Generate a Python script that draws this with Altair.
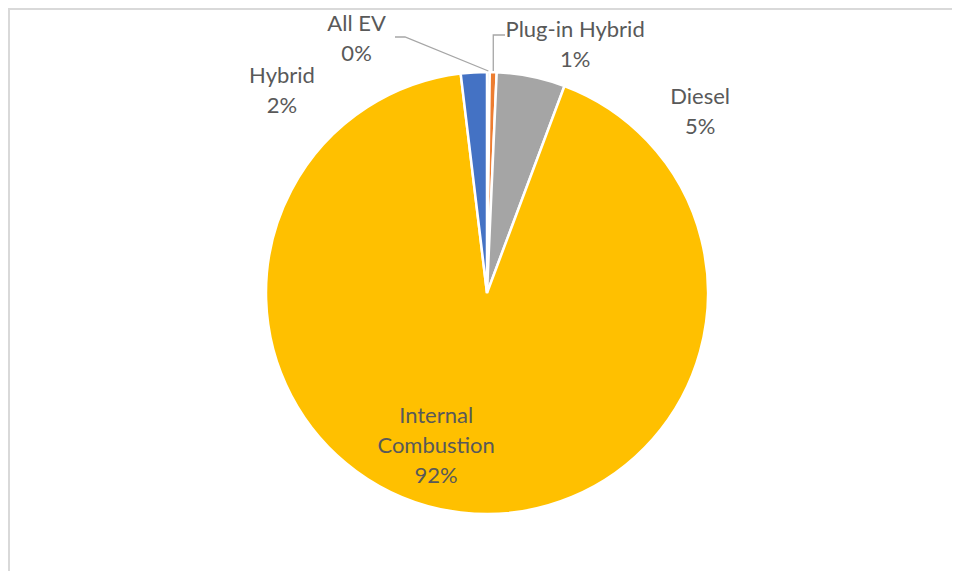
import math
import altair as alt
import pandas as pd

# ---- data ----
categories = ["All EV", "Plug-in Hybrid", "Diesel", "Internal Combustion", "Hybrid"]
shares = [0.2, 0.5, 5.0, 92.4, 1.9]
pct_labels = ["0%", "1%", "5%", "92%", "2%"]
name_labels = ["All EV", "Plug-in Hybrid", "Diesel", "Internal\nCombustion", "Hybrid"]
colors = ["#5B9BD5", "#ED7D31", "#A5A5A5", "#FFC000", "#4472C4"]

# ---- layout / style ----
W, H = 944, 563
CX, CY = 479, 285          # pie centre inside the view
R = 221                    # pie radius
TEXT = "#595959"
FONT = "Lato"
LINE_H = 30
# label placement: (radius, dx nudge, dy nudge) for the block centre
label_place = {
    "All EV": (251, -132, -3),
    "Plug-in Hybrid": (251, 81, 3),
    "Diesel": (251, 163, 65),
    "Internal Combustion": (150, -33, 4),
    "Hybrid": (251, -190, 49),
}

total = sum(shares)
rows = []
cum = 0.0
for i, (c, s, p, n) in enumerate(zip(categories, shares, pct_labels, name_labels)):
    rows.append({"idx": i, "category": c, "share": s,
                 "start": cum, "mid": cum + s / 2, "end": cum + s,
                 "label": n + "\n" + p})
    cum += s
df = pd.DataFrame(rows)

theta_scale = alt.Scale(domain=[0, total], range=[0, 2 * math.pi])

pie = alt.Chart(df).mark_arc(outerRadius=R, stroke="white", strokeWidth=2.5).encode(
    theta=alt.Theta("share:Q", stack=True, scale=theta_scale),
    order=alt.Order("idx:Q"),
    color=alt.Color("category:N", scale=alt.Scale(domain=categories, range=colors), legend=None),
    x=alt.value(CX),
    y=alt.value(CY),
)

texts = []
for cat, lab in zip(categories, df["label"]):
    r, dx, dy = label_place[cat]
    n_lines = lab.count("\n") + 1
    dy = dy - (n_lines - 1) * LINE_H / 2   # centre the whole text block
    t = alt.Chart(df).transform_filter(alt.datum.category == cat).mark_text(
        font=FONT, fontSize=22, color=TEXT, lineBreak="\n", lineHeight=LINE_H,
        align="center", baseline="middle", dx=dx, dy=dy,
    ).encode(
        theta=alt.Theta("mid:Q", stack=False, scale=theta_scale),
        radius=alt.value(r),
        text="label:N",
        x=alt.value(CX),
        y=alt.value(CY),
    )
    texts.append(t)

# leader lines for the two tiny slices: label elbow -> pie edge at slice middle
def edge_pt(frac_mid, rr):
    a = 2 * math.pi * frac_mid / total
    return CX + rr * math.sin(a), CY - rr * math.cos(a)

ev_mid = df.loc[df.category == "All EV", "mid"].iloc[0]
ph_mid = df.loc[df.category == "Plug-in Hybrid", "mid"].iloc[0]
ex, ey = edge_pt(ev_mid, R + 1)
px_, py_ = edge_pt(ph_mid, R + 1)
lead = pd.DataFrame([
    {"line": "ev", "pt": 0, "px": 387, "py": 29},
    {"line": "ev", "pt": 1, "px": 397, "py": 29},
    {"line": "ev", "pt": 2, "px": ex, "py": ey},
    {"line": "ph", "pt": 0, "px": 497, "py": 27},
    {"line": "ph", "pt": 1, "px": px_, "py": 27},
    {"line": "ph", "pt": 2, "px": px_, "py": py_},
])
leaders = alt.Chart(lead).mark_line(color="#A6A6A6", strokeWidth=1.3).encode(
    x=alt.X("px:Q", scale=None, axis=None),
    y=alt.Y("py:Q", scale=None, axis=None),
    detail="line:N",
    order="pt:Q",
)

one = pd.DataFrame({"a": [0]})
border_top = alt.Chart(one).mark_rule(color="#D9D9D9", strokeWidth=2).encode(
    x=alt.value(0), x2=alt.value(W), y=alt.value(1))
border_left = alt.Chart(one).mark_rule(color="#D9D9D9", strokeWidth=2).encode(
    x=alt.value(1), y=alt.value(0), y2=alt.value(H))

chart = alt.layer(border_top, border_left, pie, leaders, *texts).properties(
    width=W, height=H, padding=0, autosize=alt.AutoSizeParams(type="none"),
    background="white",
).configure_view(stroke=None)

chart.save("out.html", embed_options={"renderer": "svg", "actions": False})
